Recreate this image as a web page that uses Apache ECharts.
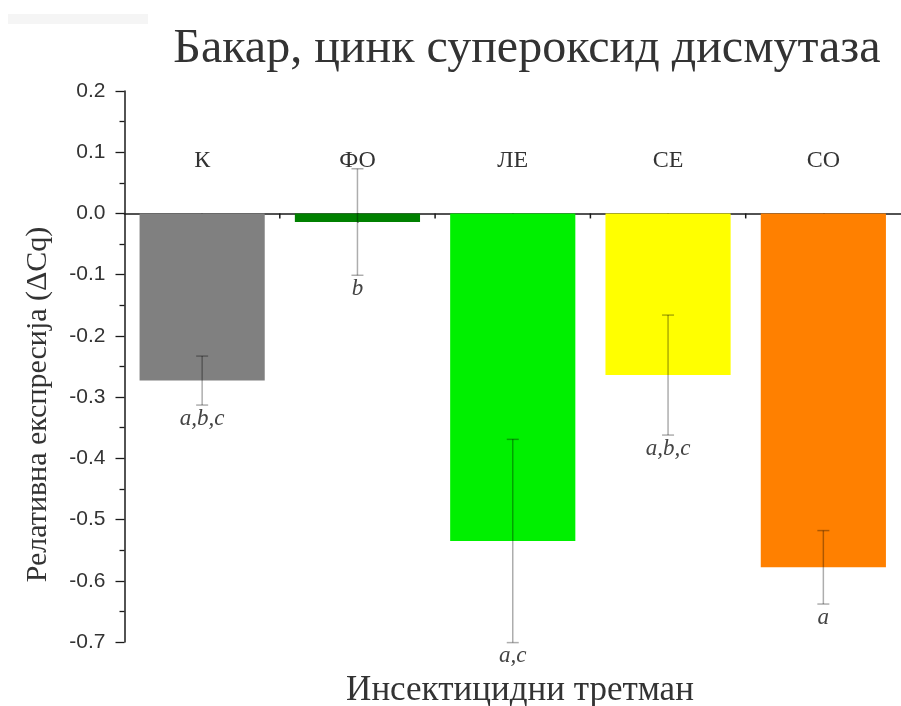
<!DOCTYPE html>
<html>
<head>
<meta charset="utf-8">
<script src="https://cdn.jsdelivr.net/npm/echarts@6/dist/echarts.min.js"></script>
<style>
  html, body { margin: 0; padding: 0; background: #fff; }
  #chart { width: 901px; height: 706px; }
</style>
</head>
<body>
<div id="chart"></div>
<script>
const categories = ['К', 'ФО', 'ЛЕ', 'СЕ', 'СО'];
const means = [-0.273, -0.014, -0.535, -0.264, -0.578];
const errors = [0.040, 0.087, 0.166, 0.098, 0.060];
const letters = ['a,b,c', 'b', 'a,c', 'a,b,c', 'a'];
const barColors = ['#808080', '#008000', '#00f000', '#ffff00', '#ff8000'];
const yMin = -0.7, yMax = 0.2, yStep = 0.1;

const serif = '"Liberation Serif", "DejaVu Serif", serif';
const sans = '"Liberation Sans", Arial, sans-serif';

const chart = echarts.init(document.getElementById('chart'), null, { renderer: 'canvas' });

const barData = means.map((m, i) => ({ value: m, itemStyle: { color: barColors[i] } }));
const errData = means.map((m, i) => [i, m, errors[i]]);

function renderErr(params, api) {
  const i = params.dataIndex;
  const idx = api.value(0);
  const m = api.value(1);
  const e = api.value(2);
  const top = api.coord([idx, m + e]);
  const bot = api.coord([idx, m - e]);
  const zero = api.coord([idx, 0]);
  const band = api.size([1, 0])[0];
  const hw = 6;
  const lineStyle = { stroke: 'rgba(0,0,0,0.32)', lineWidth: 1.5 };
  const children = [
    { type: 'line', shape: { x1: top[0], y1: top[1], x2: bot[0], y2: bot[1] }, style: lineStyle },
    { type: 'line', shape: { x1: top[0] - hw, y1: top[1], x2: top[0] + hw, y2: top[1] }, style: lineStyle },
    { type: 'line', shape: { x1: bot[0] - hw, y1: bot[1], x2: bot[0] + hw, y2: bot[1] }, style: lineStyle },
    { type: 'text', x: bot[0], y: bot[1] + 2,
      style: { text: letters[i], fill: '#444', font: 'italic 23px ' + serif, align: 'center', verticalAlign: 'top' } }
  ];
  if (i < categories.length - 1) {
    const bx = zero[0] + band / 2;
    children.push({ type: 'line', shape: { x1: bx, y1: zero[1], x2: bx, y2: zero[1] + 5 },
      style: { stroke: '#1a1a1a', lineWidth: 1.5 } });
  }
  return { type: 'group', children };
}

const option = {
  backgroundColor: '#fff',
  animation: false,
  title: [
    { text: 'Бакар, цинк супероксид дисмутаза', left: 522, top: 20, textAlign: 'center',
      textStyle: { fontFamily: serif, fontSize: 48, fontWeight: 'normal', color: '#333' } },
    { text: 'Инсектицидни третман', left: 515, top: 668, textAlign: 'center',
      textStyle: { fontFamily: serif, fontSize: 35, fontWeight: 'normal', color: '#333' } }
  ],
  graphic: [
    { type: 'rect', shape: { x: 8, y: 14, width: 140, height: 10 },
      style: { fill: '#f5f5f5' }, silent: true }
  ],
  grid: { left: 124.5, top: 91, width: 782.5, bottom: 64 },
  xAxis: {
    type: 'category', data: categories, position: 'bottom',
    axisLine: { onZero: true, lineStyle: { color: '#1a1a1a', width: 1.6 } },
    axisTick: { show: true, alignWithLabel: true, length: 9, lineStyle: { color: '#1a1a1a', width: 1.5 } },
    axisLabel: { inside: true, margin: 469, fontFamily: serif, fontSize: 24, color: '#333' },
    splitLine: { show: false }
  },
  yAxis: {
    type: 'value', min: yMin, max: yMax, interval: yStep,
    name: 'Релативна експресија (ΔCq)', nameLocation: 'middle', nameGap: 71,
    nameTextStyle: { fontFamily: serif, fontSize: 30, color: '#333', padding: [0, 76, 0, 0] },
    axisLine: { show: true, lineStyle: { color: '#1a1a1a', width: 1.5 } },
    axisTick: { show: true, length: 9, lineStyle: { color: '#1a1a1a', width: 1.3 } },
    minorTick: { show: true, splitNumber: 2, length: 5, lineStyle: { color: '#1a1a1a', width: 1.3 } },
    axisLabel: { margin: 19, fontFamily: sans, fontSize: 21, color: '#333',
      formatter: v => v.toFixed(1) },
    splitLine: { show: false }
  },
  series: [
    { type: 'bar', data: barData, barCategoryGap: '19.4%' },
    { type: 'custom', data: errData, renderItem: renderErr, z: 5, encode: { x: 0, y: 1 } }
  ]
};
chart.setOption(option);
</script>
</body>
</html>
